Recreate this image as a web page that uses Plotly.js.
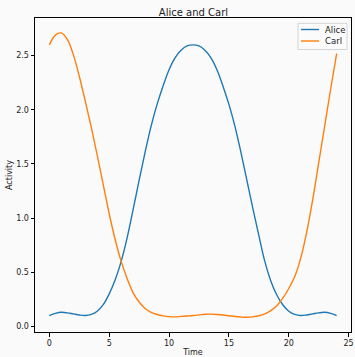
<!DOCTYPE html>
<html>
<head>
<meta charset="utf-8">
<script src="https://cdn.plot.ly/plotly-3.0.1.min.js"></script>
<style>html,body{margin:0;padding:0;background:#fafafa;}#chart{width:355px;height:357px;}</style>
</head>
<body>
<div id="chart"></div>
<script>
const time = [0,0.5,1,1.5,2,2.5,3,3.5,4,4.5,5,5.5,6,6.5,7,7.5,8,8.5,9,9.5,10,10.5,11,11.5,12,12.5,13,13.5,14,14.5,15,15.5,16,16.5,17,17.5,18,18.5,19,19.5,20,20.5,21,21.5,22,22.5,23,23.5,24];
const alice = [0.10,0.12,0.13,0.125,0.115,0.105,0.10,0.11,0.14,0.20,0.30,0.43,0.60,0.82,1.08,1.35,1.61,1.85,2.05,2.22,2.37,2.48,2.55,2.59,2.60,2.59,2.55,2.48,2.37,2.22,2.05,1.85,1.61,1.35,1.09,0.84,0.60,0.42,0.29,0.20,0.14,0.11,0.10,0.105,0.115,0.125,0.13,0.12,0.10];
const carl = [2.60,2.69,2.71,2.65,2.51,2.31,2.08,1.84,1.58,1.31,1.04,0.80,0.60,0.44,0.31,0.225,0.165,0.13,0.11,0.097,0.09,0.088,0.092,0.096,0.10,0.106,0.112,0.113,0.11,0.105,0.098,0.091,0.086,0.084,0.088,0.098,0.115,0.145,0.19,0.26,0.35,0.46,0.63,0.87,1.17,1.51,1.85,2.19,2.52];
const seriesNames = ["Alice","Carl"];
const colors = ["#1f77b4","#ff7f0e"];
const xTicks = [0,5,10,15,20,25];
const yTicks = [0,0.5,1,1.5,2,2.5];

const FONT = "DejaVu Sans, sans-serif";
const font = {family: FONT, size: 8, color: "#222"};
const traces = [alice, carl].map((ys, i) => ({
  x: time, y: ys, name: seriesNames[i], type: "scatter", mode: "lines", showlegend: false,
  line: {color: colors[i], width: 1.4, shape: "spline", smoothing: 1}
}));

// plot-area geometry in pixels, used for the matplotlib-style legend
const M = {l: 35, r: 4, t: 18, b: 25}, W = 355, H = 357;
const pw = W - M.l - M.r, ph = H - M.t - M.b;
const px = x => (x - M.l) / pw, py = y => (H - M.b - y) / ph;

const shapes = [
  {type: "rect", xref: "paper", yref: "paper", x0: px(298), x1: px(347), y0: py(49.5), y1: py(23.3),
   line: {color: "#d4d4d4", width: 1}, fillcolor: "rgba(250,250,250,0.85)", layer: "above"}
];
const annotations = [];
const rowY = [29.5, 41];
seriesNames.forEach((n, i) => {
  shapes.push({type: "line", xref: "paper", yref: "paper", x0: px(301), x1: px(319), y0: py(rowY[i]), y1: py(rowY[i]),
    line: {color: colors[i], width: 1.4}, layer: "above"});
  annotations.push({xref: "paper", yref: "paper", x: px(323), y: py(rowY[i]), xanchor: "left", yanchor: "middle",
    text: n, showarrow: false, font: {family: FONT, size: 8.5, color: "#222"}});
});

const axisCommon = {
  showgrid: false, zeroline: false, showline: true, linecolor: "#000", linewidth: 1,
  mirror: true, ticks: "outside", ticklen: 3.5, tickwidth: 1, tickcolor: "#000",
  tickfont: font
};
const layout = {
  width: W, height: H,
  margin: M,
  paper_bgcolor: "#fafafa", plot_bgcolor: "#fafafa",
  font: font,
  title: {text: "Alice and Carl", font: {family: FONT, size: 10, color: "#222"}, x: 0.545, xanchor: "center", y: 0.966, yanchor: "middle"},
  xaxis: Object.assign({}, axisCommon, {range: [-1.2, 25.2], tickvals: xTicks,
    title: {text: "Time", font: {family: FONT, size: 8, color: "#222"}, standoff: 3}}),
  yaxis: Object.assign({}, axisCommon, {range: [-0.052, 2.848], tickvals: yTicks, tickformat: ".1f",
    title: {text: "Activity", font: {family: FONT, size: 8, color: "#222"}, standoff: 2}}),
  showlegend: false,
  shapes: shapes,
  annotations: annotations
};
Plotly.newPlot("chart", traces, layout, {displayModeBar: false, staticPlot: true});
</script>
</body>
</html>
